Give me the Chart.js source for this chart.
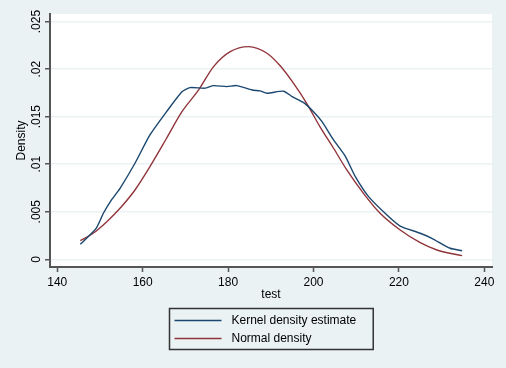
<!DOCTYPE html>
<html>
<head>
<meta charset="utf-8">
<script src="https://cdn.jsdelivr.net/npm/chart.js@4"></script>
<style>
  html, body { margin: 0; padding: 0; background: #eaf2f3; }
</style>
</head>
<body>
<canvas id="density-chart" width="506" height="368"></canvas>
<script>
// values
const kdeX = [145.4, 149.1, 150.8, 152.7, 154.7, 158.2, 161.7, 165.6, 169.2, 171.1, 174.6, 176.6, 179.7, 182.0, 185.6, 187.5, 189.1, 193.0, 195.0, 197.7, 200.0, 202.0, 204.7, 207.4, 209.8, 212.9, 217.2, 220.3, 225.0, 227.7, 232.0, 234.8]
const kdeY = [.00158, .00326, .00484, .00624, .00747, .0101, .01308, .01553, .01763, .01806, .0180, .01827, .01816, .01827, .01781, .01771, .01747, .01768, .01711, .01648, .01553, .01448, .01255, .01087, .00869, .00659, .00466, .0035, .00274, .00221, .00116, .0009]

const normX = [145.4, 148.4, 151.6, 154.7, 158.2, 161.7, 165.6, 169.2, 173.1, 176.6, 180.5, 184.8, 189.1, 192.2, 195.3, 198.4, 201.5, 204.7, 207.8, 211.7, 215.6, 220.3, 225.0, 228.9, 234.8]
const normY = [.00196, .00274, .00396, .00537, .00729, .00974, .01273, .01553, .01781, .02027, .02184, .02237, .02167, .02035, .01852, .01641, .01395, .01168, .0094, .00694, .00484, .00308, .00175, .00098, .00038]

const xTicks = [140, 160, 180, 200, 220, 240]
const yTicks = [0, .005, .01, .015, .02, .025]
const yTickLabels = ['0', '.005', '.01', '.015', '.02', '.025']

const seriesNames = ['Kernel density estimate', 'Normal density']

const BLUE = '#1a476f'
const RED = '#90353b'
const BG = '#eaf2f3'
const AXIS = '#555555'
const FONT = 'Liberation Sans, Arial, Helvetica, sans-serif'

function toPoints(xs, ys) {
    return xs.map((x, i) => ({ x: x, y: ys[i] }))
}

// paint the outer background and the white plot region
const backgroundPlugin = {
    id: 'stataBackground',
    beforeDraw(chart) {
        const ctx = chart.ctx
        const a = chart.chartArea
        ctx.save()
        ctx.fillStyle = BG
        ctx.fillRect(0, 0, chart.width, chart.height)
        ctx.fillStyle = '#ffffff'
        ctx.fillRect(a.left, a.top, a.right - a.left, a.bottom - a.top)
        ctx.restore()
    }
}

// stata style legend: one column, framed box under the x title
const boxLegendPlugin = {
    id: 'boxLegend',
    afterDraw(chart) {
        const ctx = chart.ctx
        const a = chart.chartArea
        const sets = chart.data.datasets
        ctx.save()
        ctx.font = '12px ' + FONT
        let maxW = 0
        sets.forEach(ds => { maxW = Math.max(maxW, ctx.measureText(ds.label).width) })
        const boxW = 62 + maxW + 17
        const boxH = 41
        const boxX = Math.round((a.left + a.right) / 2 - boxW / 2) + 0.5
        const boxY = 308.5
        ctx.strokeStyle = '#333333'
        ctx.lineWidth = 1.5
        ctx.strokeRect(boxX, boxY, boxW, boxH)
        sets.forEach((ds, i) => {
            const y = boxY + 12 + i * 18
            ctx.strokeStyle = ds.borderColor
            ctx.lineWidth = 1.5
            ctx.beginPath()
            ctx.moveTo(boxX + 5, y)
            ctx.lineTo(boxX + 52, y)
            ctx.stroke()
            ctx.fillStyle = '#000000'
            ctx.textAlign = 'left'
            ctx.textBaseline = 'middle'
            ctx.fillText(ds.label, boxX + 62, y + 0.5)
        })
        ctx.restore()
    }
}

const canvas = document.querySelector('#density-chart')

new Chart(canvas.getContext('2d'), {
    type: 'scatter',
    data: {
        datasets: [
            {
                label: seriesNames[0],
                data: toPoints(kdeX, kdeY),
                showLine: true,
                borderColor: BLUE,
                backgroundColor: BLUE,
                borderWidth: 1.4,
                pointRadius: 0,
                tension: 0.2
            },
            {
                label: seriesNames[1],
                data: toPoints(normX, normY),
                showLine: true,
                borderColor: RED,
                backgroundColor: RED,
                borderWidth: 1.4,
                pointRadius: 0,
                cubicInterpolationMode: 'monotone'
            }
        ]
    },
    options: {
        responsive: false,
        animation: false,
        devicePixelRatio: 1,
        layout: {
            padding: { top: 14, right: 14, bottom: 66, left: 0 }
        },
        plugins: {
            legend: { display: false },
            tooltip: { enabled: false }
        },
        scales: {
            x: {
                type: 'linear',
                min: 138.3,
                max: 241.8,
                afterBuildTicks: scale => { scale.ticks = xTicks.map(v => ({ value: v })) },
                afterFit: scale => { scale.height = 35 },
                grid: {
                    color: 'rgba(0,0,0,0)',
                    tickColor: AXIS,
                    tickLength: 5,
                    tickWidth: 1.5
                },
                border: { display: true, color: AXIS, width: 2 },
                ticks: {
                    color: '#000000',
                    padding: 3,
                    maxRotation: 0,
                    font: { family: FONT, size: 12 },
                    callback: v => String(v)
                },
                title: {
                    display: true,
                    text: 'test',
                    color: '#000000',
                    padding: { top: 0, bottom: 0 },
                    font: { family: FONT, size: 12 }
                }
            },
            y: {
                type: 'linear',
                min: -0.00081,
                max: 0.0258,
                afterBuildTicks: scale => { scale.ticks = yTicks.map(v => ({ value: v })) },
                afterFit: scale => { scale.width = 50 },
                grid: {
                    color: BG,
                    lineWidth: 1.5,
                    tickColor: AXIS,
                    tickLength: 5,
                    tickWidth: 1.5
                },
                border: { display: true, color: AXIS, width: 2 },
                ticks: {
                    color: '#000000',
                    padding: -3,
                    minRotation: 90,
                    maxRotation: 90,
                    crossAlign: 'center',
                    font: { family: FONT, size: 12 },
                    callback: (v, i) => yTickLabels[i]
                },
                title: {
                    display: true,
                    text: 'Density',
                    color: '#000000',
                    padding: { top: 14, bottom: 0 },
                    font: { family: FONT, size: 12 }
                }
            }
        }
    },
    plugins: [backgroundPlugin, boxLegendPlugin]
})
</script>
</body>
</html>
